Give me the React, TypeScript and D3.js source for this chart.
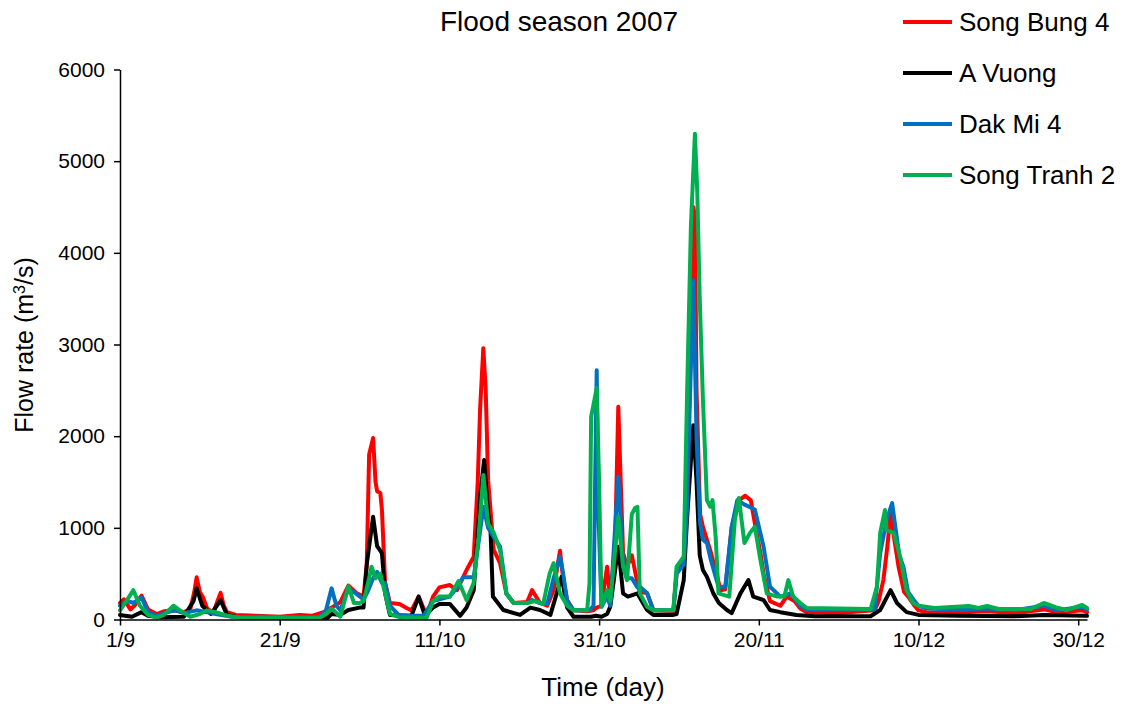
import React, { useEffect, useRef } from "react";
import * as d3 from "d3";

// days since 1/9/2007, flow rate (m3/s)
const songBung4: [number, number][] = [
  [0, 180], [0.5, 220], [1.3, 110], [1.8, 150], [2.7, 260], [3.5, 110], [4.6, 60], [5.5, 90], [6.7, 100], [8, 80],
  [8.8, 110], [9.3, 300], [9.6, 460], [10, 300], [10.4, 240], [10.9, 120], [11.7, 70], [12.2, 200], [12.6, 290], [13, 150],
  [13.4, 80], [14.5, 50], [17, 40], [20, 30], [22.5, 50], [24, 40], [25.5, 80], [26.5, 130], [27.6, 190], [28.6, 370],
  [29.6, 290], [30.5, 250], [30.9, 600], [31.2, 1800], [31.7, 1980], [32, 1500], [32.2, 1400], [32.6, 1380], [32.8, 1200], [33.2, 400],
  [33.8, 180], [35, 170], [36, 120], [36.5, 100], [37.4, 250], [38.4, 40], [39.2, 250], [40, 350], [41.3, 376], [42.2, 320],
  [43.4, 540], [44.3, 685], [44.8, 1500], [45.1, 2300], [45.5, 2960], [45.8, 2500], [46.1, 1520], [46.8, 760], [47.6, 614], [48.4, 280],
  [49.3, 180], [51, 190], [51.6, 320], [52.6, 180], [53.5, 150], [54.3, 320], [55.1, 750], [55.5, 450], [56, 212], [56.8, 100],
  [58.5, 90], [59.3, 100], [59.7, 130], [60.3, 150], [61, 576], [61.4, 212], [62, 800], [62.4, 2320], [63, 725], [63.5, 580],
  [64.1, 700], [64.8, 400], [65.1, 300], [66, 290], [66.8, 100], [69.3, 90], [69.7, 500], [70.6, 650], [71, 1500], [71.5, 3000],
  [71.8, 4500], [72, 4400], [72.2, 2500], [72.65, 1150], [73, 1010], [73.9, 760], [74.7, 503], [75.2, 320], [75.8, 330], [76.6, 1000],
  [77.5, 1300], [78.3, 1350], [79, 1300], [79.5, 1050], [80.2, 725], [80.6, 500], [81.4, 200], [82.7, 150], [83.5, 250], [84.5, 200],
  [85.2, 120], [86, 80], [90, 70], [94.5, 100], [95, 200], [95.6, 430], [96.1, 800], [96.5, 1160], [96.9, 914], [97.5, 576],
  [98.2, 300], [98.7, 250], [99.5, 150], [100, 100], [101, 80], [105, 75], [108.6, 90], [112, 70], [115.7, 110], [117.5, 75],
  [120.5, 100], [121.1, 80],
];

const aVuong: [number, number][] = [
  [0, 50], [1.5, 30], [2.7, 80], [3.5, 40], [5, 25], [8, 30], [9.2, 200], [9.6, 340], [10.3, 150], [11.4, 60],
  [12.6, 210], [13.4, 50], [15, 20], [26, 20], [26.5, 60], [27.6, 50], [28.6, 104], [30, 130], [30.5, 130], [30.9, 600],
  [31.7, 1120], [32.2, 800], [32.8, 725], [33.2, 285], [33.8, 50], [36.5, 40], [37.4, 250], [38.2, 40], [39.2, 130], [40, 170],
  [41.3, 170], [42.6, 40], [43.4, 130], [44.3, 320], [45.1, 1340], [45.6, 1740], [46.1, 1160], [46.4, 976], [46.7, 250], [48, 104],
  [50.1, 50], [51.4, 130], [52.6, 104], [53.9, 50], [55.3, 467], [56, 130], [56.8, 30], [59, 30], [59.6, 40], [60.3, 30],
  [61, 60], [61.4, 140], [62.4, 794], [63, 285], [63.6, 250], [64.8, 285], [66, 104], [66.8, 50], [69.3, 50], [69.7, 60],
  [70.6, 430], [71, 1085], [71.8, 2120], [72.2, 1500], [72.6, 700], [73, 540], [73.5, 467], [74.3, 285], [75, 180], [76, 104],
  [76.6, 70], [77.7, 285], [78.7, 430], [79.3, 250], [80.6, 212], [81.4, 104], [82.7, 80], [84.7, 50], [87, 35], [94, 35],
  [95.2, 104], [96.5, 320], [97.3, 180], [98.5, 80], [100, 50], [105, 40], [112, 35], [115.7, 50], [121.1, 40],
];

const dakMi4: [number, number][] = [
  [0, 150], [1, 200], [1.7, 180], [2.7, 240], [3.5, 80], [4.6, 40], [6, 80], [7, 100], [8, 70], [9.6, 100],
  [10.9, 80], [12, 60], [14, 30], [25, 25], [25.8, 100], [26.5, 340], [27.1, 150], [27.6, 100], [28.6, 340], [29.6, 280],
  [30.5, 220], [31, 300], [31.7, 450], [32.2, 520], [32.8, 400], [33.2, 400], [33.8, 150], [35, 40], [38, 40], [39.2, 200],
  [41.3, 250], [42.2, 350], [43, 462], [44.3, 462], [45, 900], [45.5, 1230], [46.1, 1000], [46.8, 900], [47.6, 794], [48.4, 280],
  [49.3, 180], [51, 180], [51.6, 212], [52.6, 180], [53.5, 170], [54.3, 450], [55.1, 685], [55.5, 500], [56, 200], [56.8, 100],
  [58.8, 100], [59.3, 150], [59.5, 1500], [59.7, 2720], [59.9, 1200], [60.3, 140], [61, 250], [61.4, 150], [62.4, 1560], [63, 600],
  [63.5, 450], [64.1, 450], [64.8, 350], [65.1, 358], [66, 290], [66.8, 100], [69.3, 100], [69.7, 500], [70.6, 600], [71, 1200],
  [71.5, 2800], [71.8, 3700], [72.2, 2000], [72.65, 1050], [73, 870], [73.5, 834], [74, 650], [74.95, 358], [75.8, 358], [76.6, 1010],
  [77.3, 1300], [78.3, 1250], [79.5, 1200], [80.6, 794], [81.4, 358], [82.7, 250], [84, 285], [85.2, 150], [86, 110], [94.5, 110],
  [95.2, 725], [96, 1085], [96.7, 1270], [97.1, 1010], [97.6, 700], [98.1, 576], [98.7, 300], [99.5, 200], [100, 150], [101, 120],
  [105, 110], [108.6, 120], [112, 100], [115.7, 150], [117.5, 100], [120.5, 140], [121.1, 110],
];

const songTranh2: [number, number][] = [
  [0, 100], [0.8, 200], [1.67, 320], [2.5, 150], [3.5, 50], [4.6, 20], [5.5, 50], [6.7, 150], [7.5, 100], [8.8, 30],
  [10, 60], [10.9, 100], [12, 80], [13.5, 40], [15, 20], [25, 20], [25.8, 60], [26.5, 120], [27.6, 30], [28.6, 363],
  [29.3, 180], [30, 180], [30.5, 200], [31.2, 450], [31.5, 576], [32, 450], [32.6, 500], [33.2, 285], [33.8, 60], [35, 25],
  [38.4, 20], [39.2, 200], [40, 250], [41.3, 250], [42.4, 420], [43.4, 212], [44.3, 400], [44.9, 900], [45.5, 1576], [46.1, 1050],
  [46.8, 945], [47.6, 758], [48.4, 280], [49.3, 180], [51, 180], [52, 200], [53, 170], [53.8, 500], [54.3, 614], [55.1, 285],
  [56, 150], [56.8, 100], [58.5, 100], [58.8, 400], [59, 2210], [59.7, 2525], [60, 1500], [60.3, 140], [61, 320], [61.4, 200],
  [62.4, 1120], [63, 576], [63.5, 430], [64.1, 1150], [64.5, 1216], [64.8, 1230], [65.1, 285], [66, 140], [66.8, 100], [69.3, 100],
  [69.7, 576], [70.6, 685], [71, 2400], [71.5, 4300], [72, 5300], [72.3, 4650], [72.6, 3500], [73, 2400], [73.5, 1303], [73.9, 1230],
  [74.2, 1303], [74.6, 900], [74.95, 285], [76.3, 250], [77, 1085], [77.5, 1325], [78.2, 834], [78.9, 945], [79.5, 1012], [80.2, 650],
  [81, 285], [82.3, 250], [83.2, 250], [83.7, 430], [84.3, 250], [85.2, 180], [86, 125], [94, 115], [94.8, 358], [95.2, 945],
  [95.8, 1194], [96, 976], [96.9, 945], [97.7, 685], [98.5, 320], [99.3, 180], [100, 150], [102, 125], [106.3, 147], [107.5, 125],
  [108.6, 147], [110, 114], [114, 114], [115.7, 180], [117.5, 125], [118.6, 104], [120.5, 158], [121.1, 125],
];

const seriesNames = ["Song Bung 4", "A Vuong", "Dak Mi 4", "Song Tranh 2"];
const seriesColors = ["#FF0000", "#000000", "#0070C0", "#00B050"];
const seriesData = [songBung4, aVuong, dakMi4, songTranh2];

const xTickDays = [0, 20, 40, 60, 80, 100, 120];
const xTickLabels = ["1/9", "21/9", "11/10", "31/10", "20/11", "10/12", "30/12"];
const yTicks = [0, 1000, 2000, 3000, 4000, 5000, 6000];

const FONT = "'Liberation Sans', Arial, sans-serif";

const App: React.FC = () => {
  const svgRef = useRef<SVGSVGElement>(null);
  const width = 1126;
  const height = 706;

  const x = d3.scaleLinear().domain([0, 121.1]).range([120, 1087]);
  const y = d3.scaleLinear().domain([0, 6000]).range([619.5, 69.5]);

  useEffect(() => {
    if (!svgRef.current) return;
    const svg = d3.select(svgRef.current);
    svg.selectAll(".axis").remove();

    const xAxis = d3
      .axisBottom(x)
      .tickValues(xTickDays)
      .tickFormat((d, i) => xTickLabels[i])
      .tickSize(6)
      .tickPadding(7)
      .tickSizeOuter(0);

    const yAxis = d3
      .axisLeft(y)
      .tickValues(yTicks)
      .tickFormat(d3.format("d"))
      .tickSize(6)
      .tickPadding(9)
      .tickSizeOuter(0);

    const gx = svg
      .append("g")
      .attr("class", "axis")
      .attr("transform", `translate(0,${y(0)})`)
      .call(xAxis);

    const gy = svg
      .append("g")
      .attr("class", "axis")
      .attr("transform", `translate(${x(0)},0)`)
      .call(yAxis);

    [gx, gy].forEach((g) => {
      g.attr("font-family", FONT).attr("font-size", 21);
      g.selectAll("path").attr("stroke", "#000").attr("stroke-width", 1.5);
      g.selectAll("line").attr("stroke", "#000").attr("stroke-width", 1.5);
      g.selectAll("text").attr("fill", "#000");
    });
  }, []);

  const line = d3
    .line<[number, number]>()
    .x((d) => x(d[0]))
    .y((d) => y(d[1]));

  return (
    <svg
      ref={svgRef}
      width={width}
      height={height}
      style={{ position: "absolute", left: 0, top: 0, background: "#fff" }}
    >
      <rect width={width} height={height} fill="#fff" />
      <text x={559} y={31} textAnchor="middle" fontFamily={FONT} fontSize={28} fill="#000">
        Flood season 2007
      </text>

      {seriesData.map((d, i) => (
        <path
          key={seriesNames[i]}
          d={line(d) || ""}
          fill="none"
          stroke={seriesColors[i]}
          strokeWidth={4}
          strokeLinejoin="round"
          strokeLinecap="round"
        />
      ))}

      <text
        transform="translate(33,345) rotate(-90)"
        textAnchor="middle"
        fontFamily={FONT}
        fontSize={25}
        fill="#000"
      >
        Flow rate (m<tspan baselineShift="super" fontSize={16}>3</tspan>/s)
      </text>
      <text x={603} y={696} textAnchor="middle" fontFamily={FONT} fontSize={26} fill="#000">
        Time (day)
      </text>

      {seriesNames.map((name, i) => (
        <g key={name} transform={`translate(903,${22 + i * 51})`}>
          <line x1={0} x2={49} y1={0} y2={0} stroke={seriesColors[i]} strokeWidth={4} />
          <text x={56} y={9} fontFamily={FONT} fontSize={26} fill="#000">
            {name}
          </text>
        </g>
      ))}
    </svg>
  );
};

export default App;
